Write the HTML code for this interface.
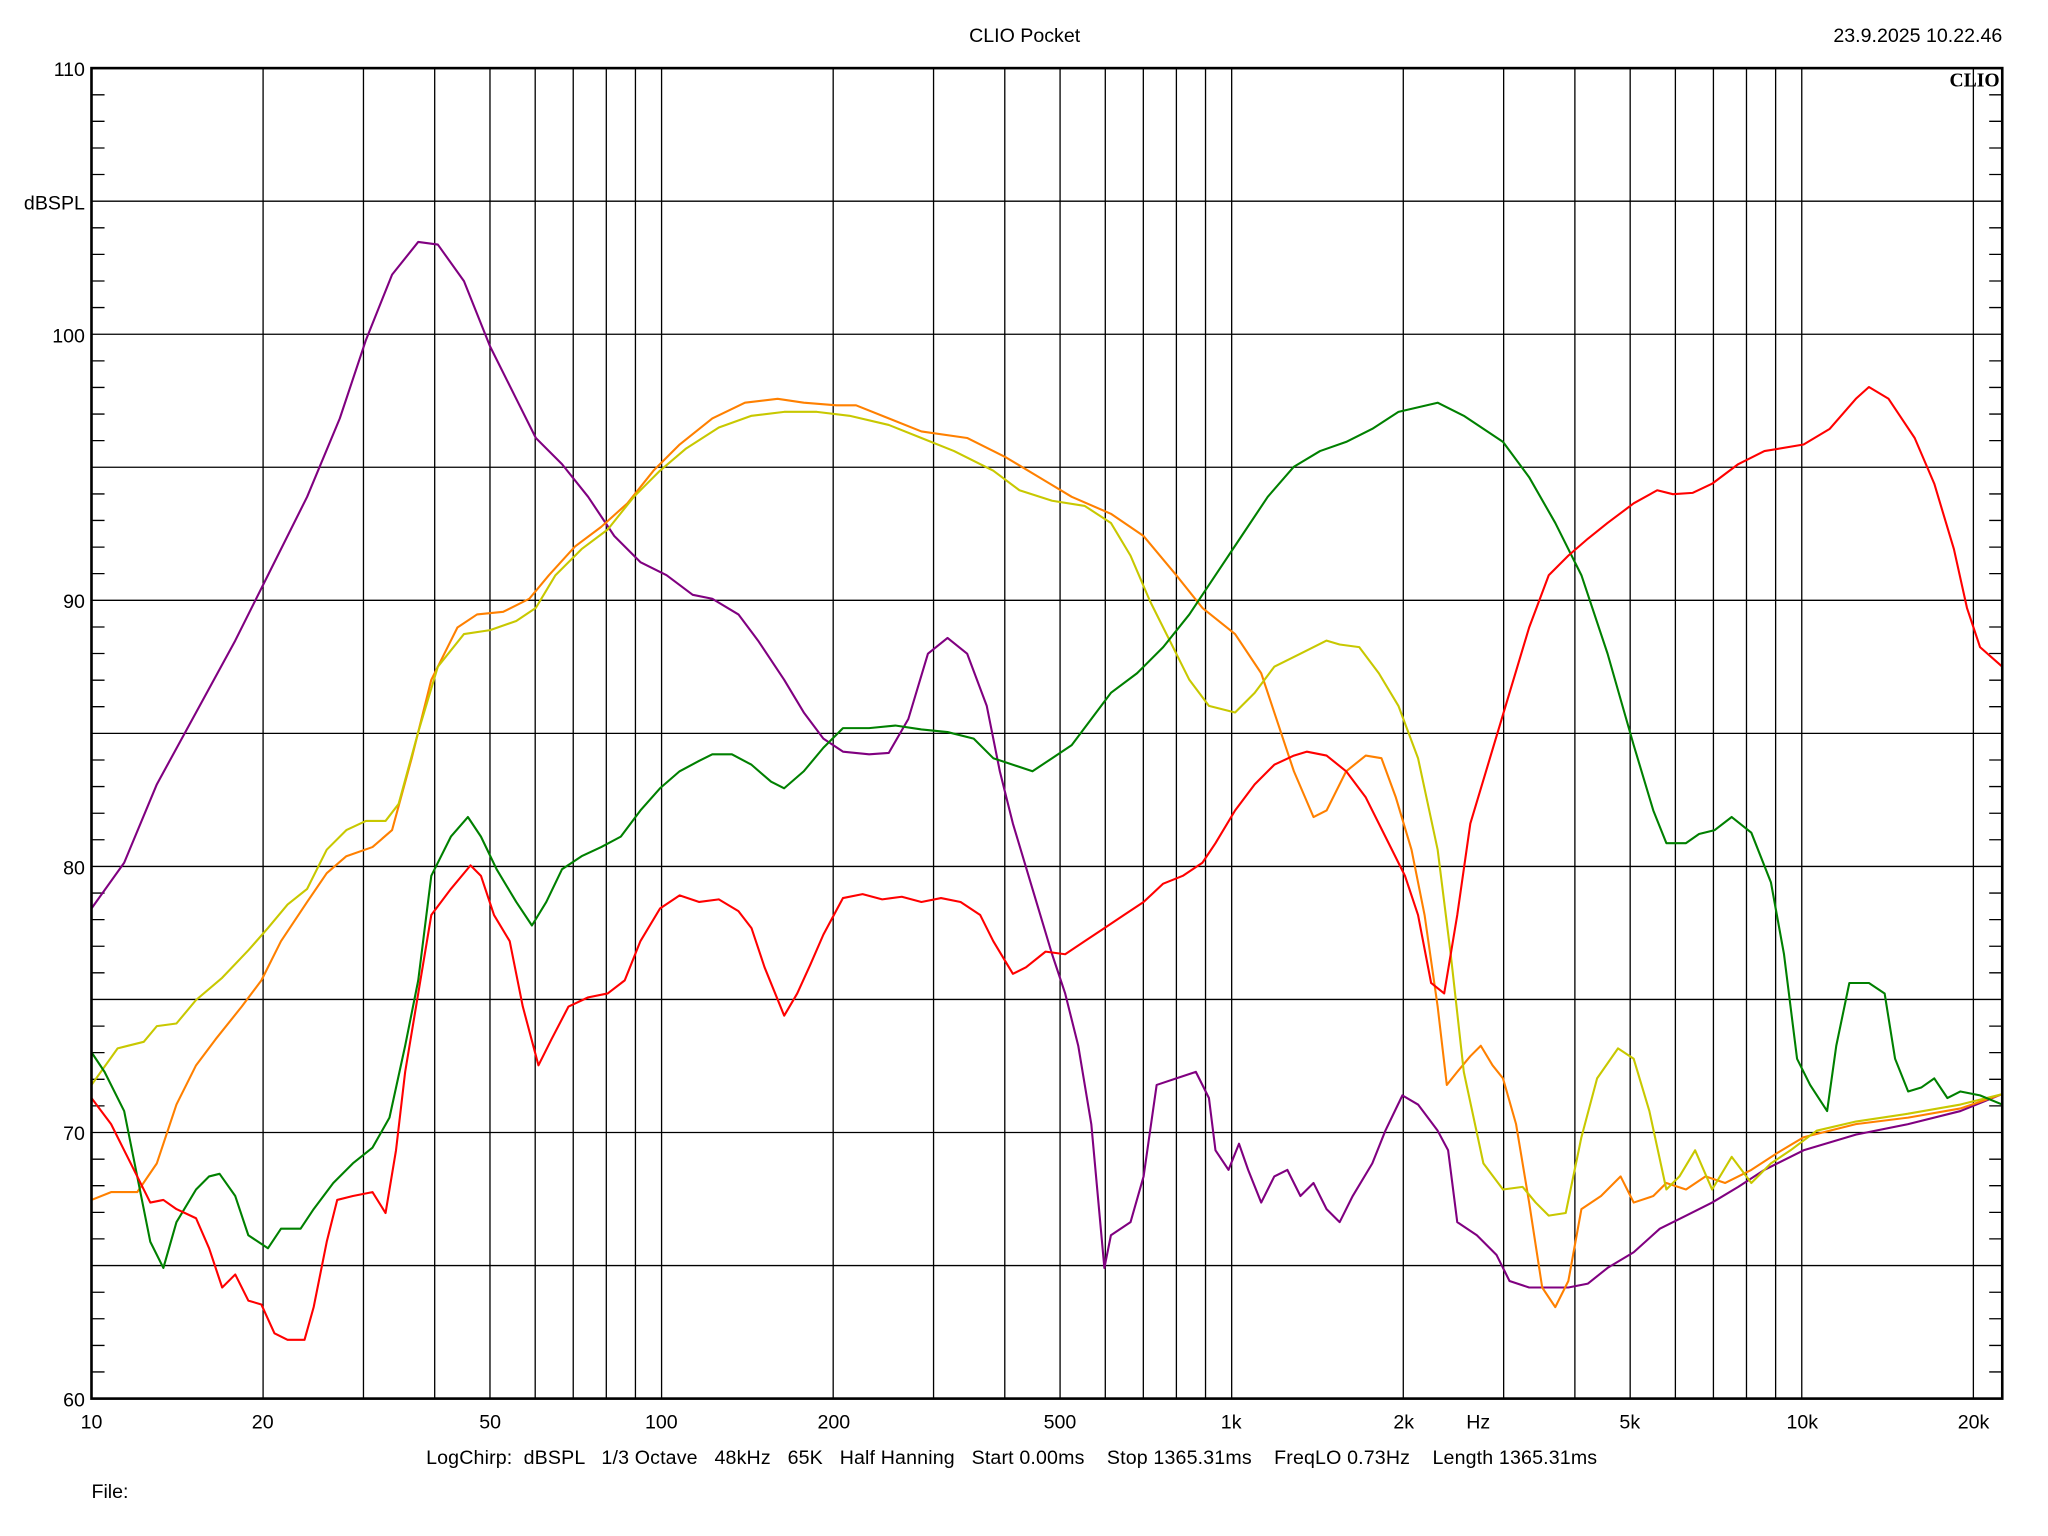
<!DOCTYPE html>
<html><head><meta charset="utf-8"><style>
html,body{margin:0;padding:0;background:#fff}
svg{display:block}
text{font-family:"Liberation Sans",sans-serif;font-size:15px;fill:#000}
</style></head><body>
<svg width="2048" height="1536" viewBox="0 0 1567 1175" xmlns="http://www.w3.org/2000/svg">
<rect width="1567" height="1175" fill="#fff"/>
<g stroke="#000" stroke-width="1" fill="none">
<path d="M201.3 52V1070M278.1 52V1070M332.6 52V1070M374.9 52V1070M409.5 52V1070M438.6 52V1070M463.9 52V1070M486.2 52V1070M506.2 52V1070M637.5 52V1070M714.3 52V1070M768.8 52V1070M811.1 52V1070M845.7 52V1070M874.8 52V1070M900.1 52V1070M922.4 52V1070M942.4 52V1070M1073.7 52V1070M1150.5 52V1070M1205 52V1070M1247.3 52V1070M1281.9 52V1070M1311 52V1070M1336.3 52V1070M1358.6 52V1070M1378.6 52V1070M1509.9 52V1070"/>
<path d="M70 153.8H1532M70 255.6H1532M70 357.4H1532M70 459.2H1532M70 561H1532M70 662.8H1532M70 764.6H1532M70 866.4H1532M70 968.2H1532"/>
<path d="M70 72.4h10M70 92.7h10M70 113.1h10M70 133.4h10M70 174.2h10M70 194.5h10M70 214.9h10M70 235.2h10M70 276h10M70 296.3h10M70 316.7h10M70 337h10M70 377.8h10M70 398.1h10M70 418.5h10M70 438.8h10M70 479.6h10M70 499.9h10M70 520.3h10M70 540.6h10M70 581.4h10M70 601.7h10M70 622.1h10M70 642.4h10M70 683.2h10M70 703.5h10M70 723.9h10M70 744.2h10M70 785h10M70 805.3h10M70 825.7h10M70 846h10M70 886.8h10M70 907.1h10M70 927.5h10M70 947.8h10M70 988.6h10M70 1008.9h10M70 1029.3h10M70 1049.6h10"/>
<path d="M1532 72.4h-10M1532 92.7h-10M1532 113.1h-10M1532 133.4h-10M1532 174.2h-10M1532 194.5h-10M1532 214.9h-10M1532 235.2h-10M1532 276h-10M1532 296.3h-10M1532 316.7h-10M1532 337h-10M1532 377.8h-10M1532 398.1h-10M1532 418.5h-10M1532 438.8h-10M1532 479.6h-10M1532 499.9h-10M1532 520.3h-10M1532 540.6h-10M1532 581.4h-10M1532 601.7h-10M1532 622.1h-10M1532 642.4h-10M1532 683.2h-10M1532 703.5h-10M1532 723.9h-10M1532 744.2h-10M1532 785h-10M1532 805.3h-10M1532 825.7h-10M1532 846h-10M1532 886.8h-10M1532 907.1h-10M1532 927.5h-10M1532 947.8h-10M1532 988.6h-10M1532 1008.9h-10M1532 1029.3h-10M1532 1049.6h-10"/>
</g>
<g fill="none" stroke-width="1.6" stroke-linejoin="round">
<polyline stroke="#800080" points="70,695 95,660 120,600 150,545 180,490 205,440 235,380 260,320 280,260 300,210 320,185 335,187 355,215 375,265 395,305 410,335 430,355 450,380 470,410 490,430 510,440 530,455 545,458 565,470 580,490 600,520 615,545 630,565 645,575 665,577 680,576 695,550 710,500 725,488 740,500 755,540 765,590 775,630 790,680 805,730 815,760 825,800 835,860 845,970 850,945 865,935 875,900 885,830 900,825 915,820 925,840 930,880 940,895 948,875 955,895 965,920 975,900 985,895 995,915 1005,905 1015,925 1025,935 1035,915 1050,890 1060,865 1073,838 1085,845 1100,865 1108,880 1115,935 1130,945 1145,960 1155,980 1170,985 1185,985 1200,985 1215,982 1230,970 1250,958 1270,940 1290,930 1310,920 1330,908 1350,895 1380,880 1420,868 1460,860 1500,850 1532,837"/>
<polyline stroke="#ff8000" points="70,918 85,912 105,912 120,890 135,845 150,815 165,795 185,770 200,750 215,720 235,690 250,668 265,655 285,648 300,635 315,580 330,520 350,480 365,470 385,468 405,458 420,440 440,418 460,403 480,385 500,360 520,340 545,320 570,308 595,305 615,308 640,310 655,310 680,320 705,330 740,335 770,350 800,368 820,380 850,393 875,410 900,440 920,465 945,485 965,515 975,545 990,590 1005,625 1015,620 1030,590 1045,578 1057,580 1068,610 1080,650 1090,700 1100,770 1107,830 1115,820 1125,808 1133,800 1142,815 1150,825 1160,860 1170,920 1180,985 1190,1000 1200,980 1210,925 1225,915 1240,900 1250,920 1265,915 1275,905 1290,910 1305,900 1320,905 1340,895 1360,882 1380,870 1420,860 1460,855 1500,848 1532,837"/>
<polyline stroke="#c8c800" points="70,830 90,802 110,797 120,785 135,783 150,765 170,748 190,727 205,710 220,692 235,680 250,650 265,635 280,628 295,628 305,615 320,560 335,510 355,485 375,482 395,475 410,465 425,440 445,420 465,405 485,380 505,360 525,343 550,327 575,318 600,315 625,315 650,318 680,325 705,335 730,345 760,360 780,375 805,383 830,387 850,400 865,425 880,460 895,490 910,520 925,540 945,545 960,530 975,510 995,500 1015,490 1025,493 1040,495 1055,515 1070,540 1085,580 1100,650 1110,730 1120,820 1135,890 1150,910 1165,908 1175,920 1185,930 1198,928 1210,870 1222,825 1238,802 1250,810 1262,850 1275,910 1285,900 1297,880 1310,910 1325,885 1340,905 1355,890 1370,880 1390,865 1420,858 1460,852 1500,845 1532,837"/>
<polyline stroke="#008000" points="70,805 80,820 95,850 105,900 115,950 125,970 135,935 150,910 160,900 168,898 180,915 190,945 205,955 215,940 230,940 240,925 255,905 270,890 285,878 298,855 310,800 320,750 330,670 345,640 358,625 368,640 380,665 395,690 407,708 418,690 430,665 445,655 460,648 475,640 490,620 505,603 520,590 535,582 545,577 560,577 575,585 590,598 600,603 615,590 630,572 645,557 665,557 685,555 705,558 725,560 745,565 760,580 775,585 790,590 805,580 820,570 835,550 850,530 870,515 890,495 910,470 930,440 950,410 970,380 990,357 1010,345 1030,338 1050,328 1070,315 1100,308 1120,318 1150,338 1170,365 1190,400 1210,440 1230,500 1250,570 1265,620 1275,645 1290,645 1300,638 1312,635 1325,625 1340,637 1355,675 1365,730 1375,810 1385,830 1398,850 1405,800 1415,752 1430,752 1442,760 1450,810 1460,835 1470,832 1480,825 1490,840 1500,835 1515,838 1532,845"/>
<polyline stroke="#ff0000" points="70,840 85,860 95,880 105,900 115,920 125,918 135,925 150,932 160,955 170,985 180,975 190,995 200,998 210,1020 220,1025 233,1025 240,1000 250,950 258,918 270,915 285,912 295,928 303,880 310,820 330,700 345,680 360,662 368,670 378,700 390,720 400,770 412,815 422,795 435,770 450,763 465,760 478,750 490,720 505,695 520,685 535,690 550,688 565,697 575,710 585,740 600,777 610,760 620,738 630,715 645,687 660,684 675,688 690,686 705,690 720,687 735,690 750,700 760,720 775,745 785,740 800,728 815,730 830,720 845,710 860,700 875,690 890,676 905,670 920,660 930,645 945,620 960,600 975,585 990,578 1000,575 1015,578 1030,590 1045,610 1060,640 1075,670 1085,700 1095,752 1105,760 1115,700 1125,630 1140,580 1155,530 1170,480 1185,440 1200,425 1215,412 1230,400 1250,385 1268,375 1280,378 1295,377 1310,370 1330,355 1350,345 1380,340 1400,328 1420,305 1430,296 1445,305 1465,335 1480,370 1495,420 1505,465 1515,495 1532,510"/>
</g>
<rect x="70" y="52" width="1462" height="1018" fill="none" stroke="#000" stroke-width="2"/>
<text x="784" y="32" text-anchor="middle">CLIO Pocket</text>
<text x="1532" y="32" text-anchor="end">23.9.2025 10.22.46</text>
<text x="1530" y="66" text-anchor="end" style="font-family:'Liberation Serif',serif;font-weight:bold;font-size:15px">CLIO</text>
<g text-anchor="end">
<text x="65" y="58">110</text><text x="65" y="160">dBSPL</text><text x="65" y="262">100</text>
<text x="65" y="465">90</text><text x="65" y="669">80</text><text x="65" y="872">70</text><text x="65" y="1076">60</text>
</g>
<g text-anchor="middle">
<text x="70" y="1093">10</text><text x="201" y="1093">20</text><text x="375" y="1093">50</text><text x="506" y="1093">100</text>
<text x="638" y="1093">200</text><text x="811" y="1093">500</text><text x="942" y="1093">1k</text><text x="1074" y="1093">2k</text>
<text x="1131" y="1093">Hz</text><text x="1247" y="1093">5k</text><text x="1379" y="1093">10k</text><text x="1510" y="1093">20k</text>
</g>
<text x="326" y="1120" textLength="896" lengthAdjust="spacing" xml:space="preserve">LogChirp:  dBSPL   1/3 Octave   48kHz   65K   Half Hanning   Start 0.00ms    Stop 1365.31ms    FreqLO 0.73Hz    Length 1365.31ms</text>
<text x="70" y="1146">File:</text>
</svg>
</body></html>
